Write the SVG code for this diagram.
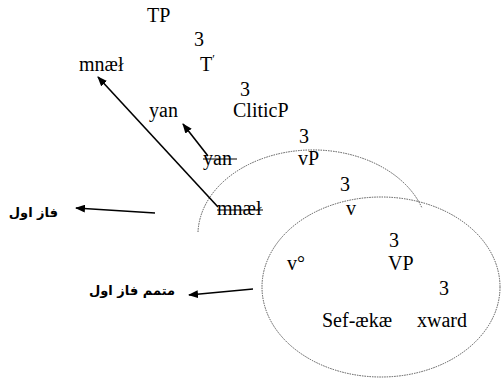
<svg xmlns="http://www.w3.org/2000/svg" width="502" height="379" viewBox="0 0 502 379">
<defs>
<style>
.t{font-family:"Liberation Serif","Times New Roman",serif;font-size:20px;fill:#000}
.ar{font-family:"DejaVu Sans",sans-serif;font-size:13px;font-weight:bold;fill:#000}
.dot{fill:none;stroke:#555;stroke-width:1;stroke-dasharray:1.5 1}
.arrow{stroke:#000;stroke-width:1.6;fill:none;marker-end:url(#ah)}
.strike{stroke:#000;stroke-width:1.2}
</style>
<marker id="ah" markerWidth="10" markerHeight="8" refX="9" refY="4" orient="auto" markerUnits="userSpaceOnUse">
<path d="M0,0 L10,4 L0,8 Z" fill="#000"/>
</marker>
</defs>
<g id="phases">
<path class="dot" d="M198,232 A115,85 0 0 1 422,208"/>
<ellipse class="dot" cx="381" cy="287" rx="119" ry="90"/>
</g>
<g id="connectors">
<line class="arrow" x1="218" y1="207" x2="98" y2="77"/>
<line class="arrow" x1="208" y1="156" x2="183" y2="124"/>
<line class="arrow" x1="155" y1="213" x2="76" y2="208"/>
<line class="arrow" x1="253" y1="289" x2="189" y2="295"/>
</g>
<g id="TP"><text class="t" x="147" y="22">TP</text></g>
<g id="b1"><text class="t" x="194" y="46">3</text></g>
<g id="Tbar"><text class="t" x="200" y="71">T<tspan font-size="12" dy="-8">′</tspan></text></g>
<g id="mnael"><text class="t" x="79" y="71">mnæł</text></g>
<g id="b2"><text class="t" x="240" y="96">3</text></g>
<g id="yan"><text class="t" x="149" y="117">yan</text></g>
<g id="CliticP"><text class="t" x="233" y="117">CliticP</text></g>
<g id="b3"><text class="t" x="299" y="143">3</text></g>
<g id="yan2"><text class="t" x="203" y="165">yan</text><line class="strike" x1="203" y1="159" x2="237" y2="159"/></g>
<g id="vP"><text class="t" x="298" y="165">vP</text></g>
<g id="b4"><text class="t" x="340" y="191">3</text></g>
<g id="mnael2"><text class="t" x="217" y="215">mnæł</text><line class="strike" x1="217" y1="210" x2="263" y2="210"/></g>
<g id="vbar"><text class="t" x="346" y="215">v</text></g>
<g id="b5"><text class="t" x="389" y="247">3</text></g>
<g id="v0"><text class="t" x="287" y="270">v°</text></g>
<g id="VP"><text class="t" x="388" y="270">VP</text></g>
<g id="b6"><text class="t" x="439" y="295">3</text></g>
<g id="sefaekae"><text class="t" x="322" y="327">Sef-ækæ</text></g>
<g id="xward"><text class="t" x="417" y="327">xward</text></g>
<g id="phase1"><text class="ar" x="58" y="217" text-anchor="end">فاز اول</text></g>
<g id="phase1c"><text class="ar" x="175" y="295" text-anchor="end">متمم فاز اول</text></g>
</svg>
